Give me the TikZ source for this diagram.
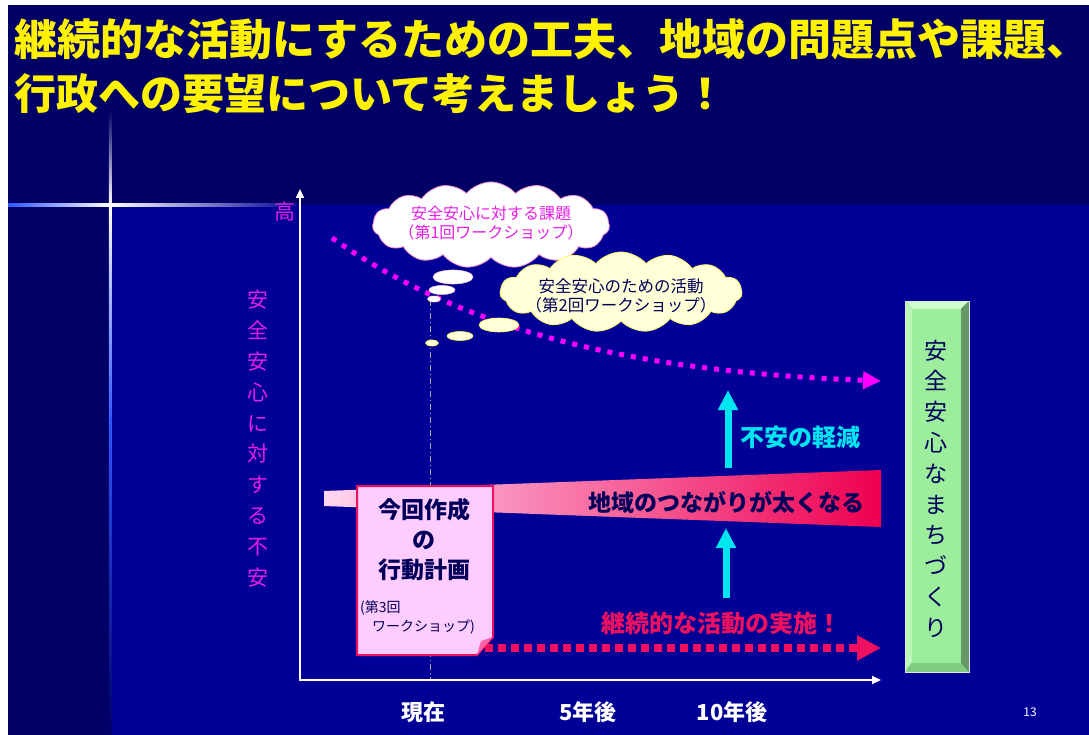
\documentclass[tikz,border=0pt]{standalone}
\usepackage{fontspec}
\setmainfont{Noto Sans CJK JP}
\usetikzlibrary{arrows.meta,shapes.symbols}

\definecolor{bgdark}{HTML}{000066}
\definecolor{bgblue}{HTML}{000096}
\definecolor{flareblue}{HTML}{3355FF}
\definecolor{navytext}{HTML}{00005A}
\definecolor{magline}{HTML}{FF00FF}
\definecolor{magtext}{HTML}{E51EE5}
\definecolor{hotpink}{HTML}{F01060}
\definecolor{docpink}{HTML}{FFCCFF}
\definecolor{wedgeL}{HTML}{FFD6F0}
\definecolor{wedgeR}{HTML}{EE0050}
\definecolor{cyanarr}{HTML}{00E5F0}
\definecolor{greenbox}{HTML}{9CEE9C}
\definecolor{greenlite}{HTML}{CCFFCC}
\definecolor{greendark}{HTML}{669966}
\definecolor{greenmid}{HTML}{80CC80}
\definecolor{cream}{HTML}{FFFFD8}

\begin{document}
\begin{tikzpicture}[x=1pt,y=-1pt,
  txt/.style={inner sep=0pt, font=\fontsize{#1}{#1}\selectfont},
  btxt/.style={inner sep=0pt, font=\bfseries\fontsize{#1}{#1}\selectfont},
  stack/.style={inner sep=0pt, align=center, font=\fontsize{#1}{30.8}\selectfont},
  cloudbox/.style={cloud, cloud puffs=15, cloud puff arc=100, cloud ignores aspect, inner sep=0pt, line width=0.8pt},
  bubble/.style={line width=0.6pt}]
\useasboundingbox (0,0) rectangle (1089,735);

% background and flare
\fill[white] (0,0) rectangle (1089,735);
\fill[bgdark] (8,5) rectangle (1089,735);
\fill[bgblue] (110,205) rectangle (1089,735);
\shade[left color=flareblue, right color=white] (8,204) rectangle (110,206.5);
\shade[left color=white, right color=bgblue] (110,204) rectangle (300,206.5);
\shade[top color=bgdark, bottom color=white] (108.8,110) rectangle (111.3,205);
\shade[top color=white, bottom color=flareblue] (108.8,205) rectangle (111.3,420);
\shade[top color=flareblue, bottom color=bgdark] (108.8,420) rectangle (111.3,735);
\fill[white] (110,205) circle (2.5pt);

% title
\node[btxt=43, anchor=west, text=yellow] (T1) at (14,39) {継続的な活動にするための工夫、地域の問題点や課題、};
\node[btxt=42, anchor=west, text=yellow] (T2) at (14,94) {行政への要望について考えましょう！};

\coordinate (O)    at (300,680);
\coordinate (Ytop) at (300,189);
\coordinate (Xend) at (881,680);
\coordinate (K0)   at (332,238);
\coordinate (K1)   at (881,381);
\coordinate (P0)   at (485,648);
\coordinate (P1)   at (881,648);
\coordinate (U0)   at (728,468);
\coordinate (U1)   at (728,390);
\coordinate (L0)   at (726,598);
\coordinate (L1)   at (726,528);

% now-line
\draw[gray!70, line width=1pt, dash pattern=on 6pt off 3pt on 1pt off 3pt] (430,300) -- (430,680);

% axes
\draw[white, line width=1.8pt, {Triangle[length=9pt,width=8pt]}-{Triangle[length=9pt,width=8pt]}] (Ytop) -- (O) -- (Xend);

\node[txt=21, text=magtext] (High) at (285,212) {高};
\node[stack=21, text=magtext] (Anx) at (258,438.5) {安\\全\\安\\心\\に\\対\\す\\る\\不\\安};

% anxiety curve
\draw[magline, line width=5pt, dash pattern=on 5pt off 7pt, -{Triangle[length=18pt,width=17pt]}] (K0) .. controls (450,320) and (600,370) .. (K1);

% clouds
\node[cloudbox, fill=white, draw=pink!70!magtext, minimum width=237pt, minimum height=86pt] (Cl1) at (491,225) {};
\node[align=center, inner sep=0pt, font=\fontsize{16}{19}\selectfont, text=magtext] (Cl1t) at (491,223) {安全安心に対する課題\\（第1回ワークショップ）};
\draw[bubble, fill=white, draw=pink!70] (453,277) ellipse [x radius=20pt, y radius=7pt];
\draw[bubble, fill=white, draw=pink!70] (442,290) ellipse [x radius=13pt, y radius=4.5pt];
\draw[bubble, fill=white, draw=pink!70] (434,299) ellipse [x radius=6.5pt, y radius=3pt];

\node[cloudbox, fill=cream, draw=yellow!60!white, minimum width=242pt, minimum height=80pt] (Cl2) at (621,292) {};
\node[align=center, inner sep=0pt, font=\fontsize{16.5}{18.5}\selectfont, text=navytext] (Cl2t) at (621,296) {安全安心のための活動\\（第2回ワークショップ）};
\draw[bubble, fill=cream, draw=yellow!70] (499,325) ellipse [x radius=20pt, y radius=7pt];
\draw[bubble, fill=cream, draw=yellow!70] (460,336) ellipse [x radius=13pt, y radius=4.5pt];
\draw[bubble, fill=cream, draw=yellow!70] (432,343) ellipse [x radius=6.5pt, y radius=3pt];

% ties getting thicker
\shade[left color=wedgeL, right color=wedgeR] (324,491) -- (881,470) -- (881,527) -- (324,506) -- cycle;
\node[btxt=23, anchor=east, text=navytext] (Ties) at (865,503) {地域のつながりが太くなる};

% up arrows
\draw[cyanarr, line width=7pt, -{Triangle[length=20pt,width=19pt]}] (U0) -- (U1);
\draw[cyanarr, line width=7pt, -{Triangle[length=20pt,width=19pt]}] (L0) -- (L1);
\node[btxt=24, anchor=west, text=cyanarr] (Less) at (740,437) {不安の軽減};

% continued activity
\draw[hotpink, line width=8pt, dash pattern=on 8pt off 5pt, -{Triangle[length=24pt,width=24pt]}] (P0) -- (P1);
\node[btxt=24, text=hotpink] (Cont) at (721,623) {継続的な活動の実施！};

% action plan sheet
\draw[hotpink, line width=2pt, fill=docpink] (357,486) -- (493,486) -- (493,637) -- (477,655) -- (357,655) -- cycle;
\fill[hotpink!55!docpink] (477,655) -- (481,641) -- (493,637) -- cycle;
\node[align=center, inner sep=0pt, font=\bfseries\fontsize{23}{30}\selectfont, text=navytext] (Plan) at (424,540) {今回作成\\の\\行動計画};
\node[txt=14, anchor=west, text=navytext] (WS3a) at (360,608) {(第3回};
\node[txt=14, anchor=west, text=navytext] (WS3b) at (372,627) {ワークショップ)};

% goal box
\fill[greenlite] (905,301) -- (969,301) -- (961,309) -- (912,309) -- cycle;
\fill[greenlite!60!greenbox] (905,301) -- (912,309) -- (912,663) -- (905,672) -- cycle;
\fill[greendark] (969,301) -- (969,672) -- (961,663) -- (961,309) -- cycle;
\fill[greenmid] (905,672) -- (969,672) -- (961,663) -- (912,663) -- cycle;
\fill[greenbox] (912,309) rectangle (961,663);
\draw[white!80!gray, line width=0.6pt] (905,301) rectangle (969,672);
\node[stack=23, text=navytext] (Goal) at (936,488.5) {安\\全\\安\\心\\な\\ま\\ち\\づ\\く\\り};

% time labels
\node[btxt=22, text=white] (Now) at (423,712) {現在};
\node[btxt=22, text=white] (Y5)  at (588,712) {5年後};
\node[btxt=22, text=white] (Y10) at (732,712) {10年後};
\node[txt=12, text=white] (Pg) at (1030,712) {13};

\end{tikzpicture}
\end{document}
